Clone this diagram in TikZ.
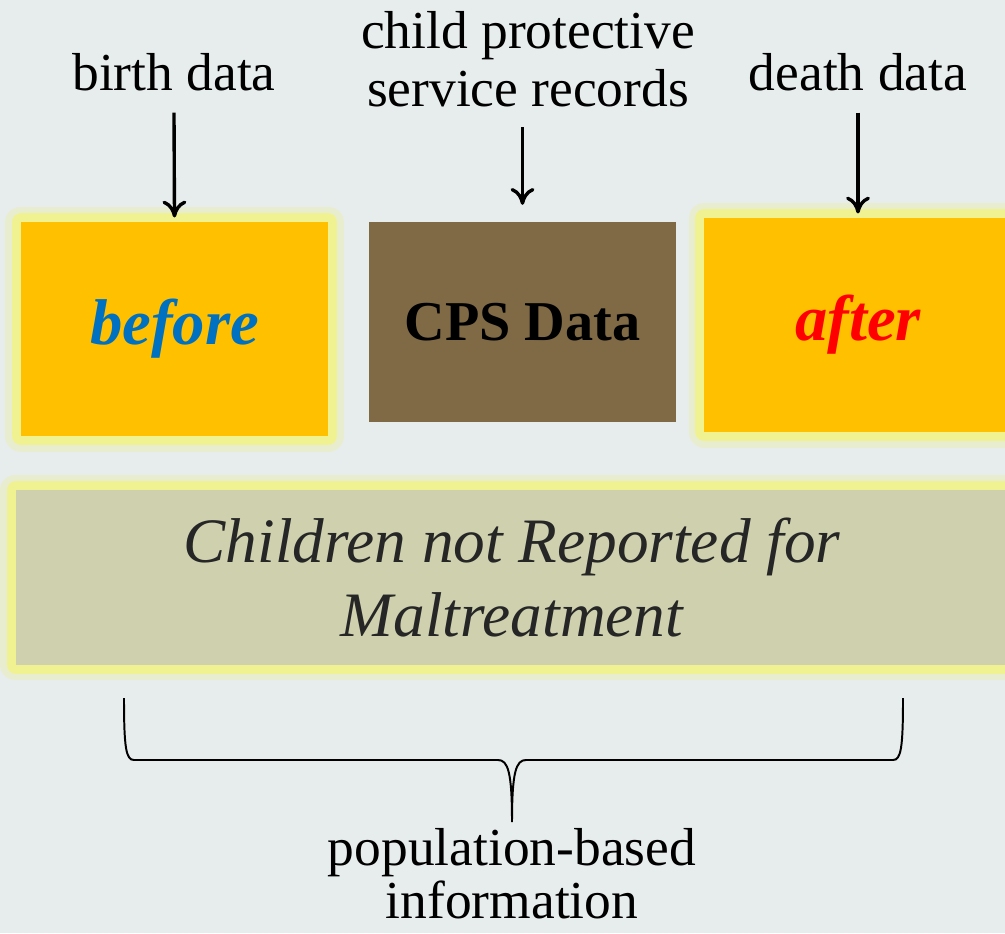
\documentclass[tikz,border=0pt]{standalone}
\usepackage{fontspec}
\setmainfont{Liberation Serif}
\usepackage{tikz}
\usetikzlibrary{arrows.meta}

\definecolor{bgc}{RGB}{231,236,236}
\definecolor{glowc}{RGB}{240,242,146}
\definecolor{boxorange}{RGB}{255,192,0}
\definecolor{boxbrown}{RGB}{128,106,70}
\definecolor{boxolive}{RGB}{207,208,174}
\definecolor{txtblue}{RGB}{0,112,192}
\definecolor{txtdark}{RGB}{38,38,38}

\begin{document}
\begin{tikzpicture}[x=0.025cm,y=-0.025cm,
    glow/.style={preaction={draw=glowc,line width=22pt,draw opacity=0.3,line join=round},
                 preaction={draw=glowc,line width=13pt,line join=round}},
    box/.style={minimum width=7.675cm,inner sep=0pt,font=\fontsize{46}{54}\selectfont\bfseries\itshape},
    lbl/.style={align=center,font=\fontsize{38}{41}\selectfont},
    arr/.style={-{To[length=12pt,width=17pt]},line width=2.4pt}]

    \useasboundingbox (0,0) rectangle (1005,933);
    \fill[bgc] (0,0) rectangle (1005,933);

        % the three boxes
        \node[box,glow,fill=boxorange,minimum height=5.35cm,text=txtblue] (before) at (174.5,329) {before};
        \node[box,fill=boxbrown,minimum height=5cm,font=\fontsize{40}{46}\selectfont\bfseries] (cps) at (522.5,322) {CPS Data};
        \node[box,glow,fill=boxorange,minimum height=5.35cm,text=red] (after) at (858,325) {after};

        \node[glow,fill=boxolive,minimum width=24.8cm,minimum height=4.375cm,inner sep=0pt,align=center,
              text=txtdark,font=\fontsize{45}{53}\selectfont\itshape] (notrep) at (512,577.5)
              {Children not Reported for\\Maltreatment};

        \node[lbl] (birth) at (174,72) {birth data};
        \node[lbl] (cpsrec) at (528,59) {child protective\\service records};
        \node[lbl] (death) at (858,72) {death data};

        % draw the arrows
        \draw[arr] ([yshift=-12pt]birth.south) -- ([yshift=3pt]before.north);
        \draw[arr] ([yshift=-11pt]cps.north |- cpsrec.south) -- ([yshift=12pt]cps.north);
        \draw[arr] ([yshift=-12pt]death.south) -- ([yshift=3pt]after.north);

        % the brace
        \coordinate (bl) at (124,698);
        \coordinate (br) at (903,698);
        \coordinate (bm) at (512,822);
        \draw[line width=1.4pt] (bl) .. controls (124,748) and (126,760) .. (134,760) -- (498,760)
            .. controls (508,760) and (512,772) .. (bm)
            .. controls (512,772) and (516,760) .. (526,760) -- (893,760)
            .. controls (901,760) and (903,748) .. (br);
        \node[lbl,anchor=north,font=\fontsize{38}{38}\selectfont] (popinfo) at ([yshift=-1pt]bm) {population-based\\information};

\end{tikzpicture}
\end{document}
